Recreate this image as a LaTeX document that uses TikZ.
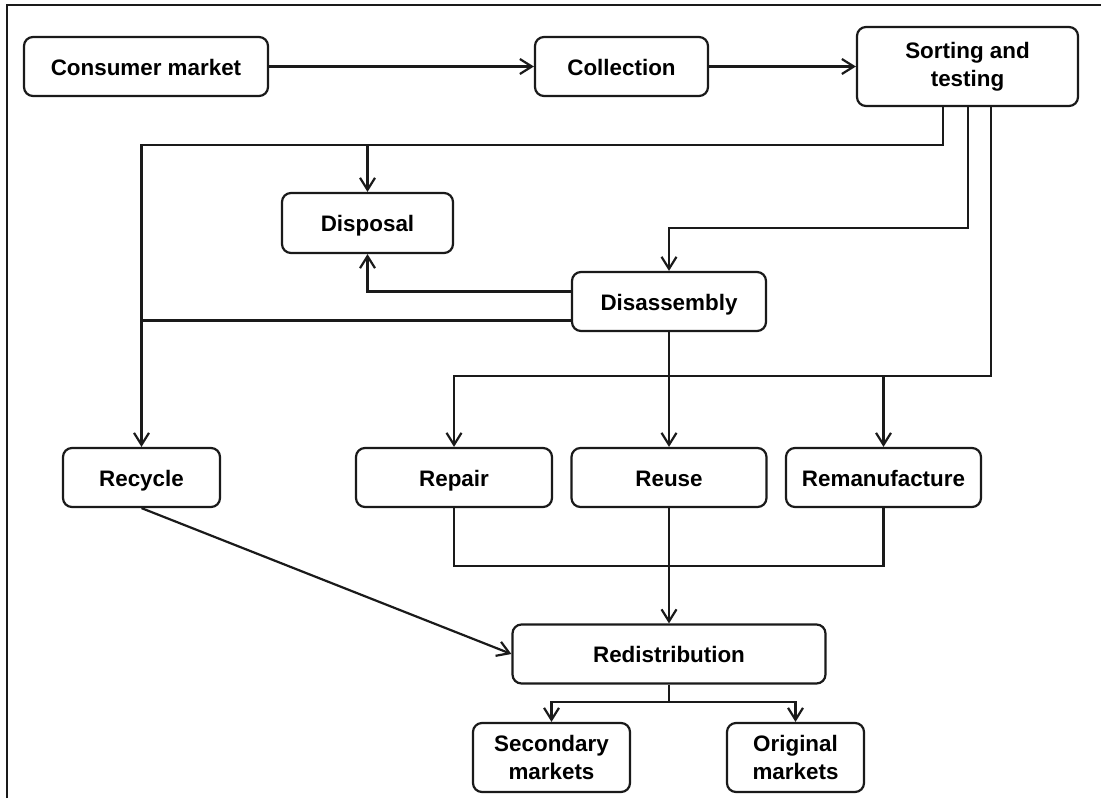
\documentclass[tikz,border=0pt]{standalone}
\usepackage{fontspec}
\setsansfont{Liberation Sans}
\usepackage{xcolor}
\usepackage{tikz}
\usetikzlibrary{arrows.meta,positioning}
\definecolor{ink}{HTML}{1A1A1A}
\tikzset{
  every node/.style={font=\sffamily},
  box/.style={draw=ink,line width=1.1pt,rounded corners=4.5pt,fill=white,align=center,
              font=\sffamily\bfseries\fontsize{11.2}{14}\selectfont,inner sep=2pt,
              minimum height=29.5pt},
  one/.style={box,text height=8.5pt,text depth=0pt},
  ar/.style={-{Straight Barb[length=6pt,width=7.5pt,line width=1.1pt]},draw=ink,line width=1.1pt},
  ln/.style={draw=ink,line width=1.1pt},
}

\begin{document}
\begin{tikzpicture}[x=0.5pt,y=-0.5pt]
\useasboundingbox (0,0) rectangle (1101,798);

% ---- frame ----
\draw[draw=ink,line width=1.3pt] (7,798) -- (7,5) -- (1101,5);

% ---- top row ----
\node[one,minimum width=122pt] (cm) at (146,66.5) {Consumer market};
\node[one,minimum width=86.5pt] (col) at (621.5,66.5) {Collection};
\node[box,minimum width=110.5pt,minimum height=39.5pt] (sort) at (967.5,66.5) {Sorting and\\testing};

\draw[ar] (cm) -- (col);
\draw[ar] (col) -- (sort);

% ---- disposal / disassembly ----
\node[one,minimum width=85.5pt,minimum height=30pt] (disp) at (367.5,223) {Disposal};
\node[one,minimum width=97pt] (dis) at (669,301.5) {Disassembly};

\coordinate (jtop) at (943,145);
\coordinate (jdis) at (968,228);
\coordinate (jmid) at (991,376);
\coordinate (dw1) at ([yshift=5pt]dis.west);
\coordinate (dw2) at ([yshift=-9.5pt]dis.west);

% ---- recovery options ----
\node[one,minimum width=78.5pt] (rec) at (141.5,477.5) {Recycle};
\node[one,minimum width=98pt] (rep) at (454,477.5) {Repair};
\node[one,minimum width=97.5pt] (reu) at (669,477.5) {Reuse};
\node[one,minimum width=97.5pt] (rem) at (883.5,477.5) {Remanufacture};

\draw[ar] (sort.south -| jtop) -- (jtop) -| (rec.north);
\draw[ar] (disp.north |- jtop) -- (disp.north);
\draw[ar] (sort.south -| jdis) -- (jdis) -| (dis.north);
\draw[ar] (dw1) -| (disp.south);
\draw[ln] (dw2) -- (dw2 -| rec.north);
\draw[ar] (sort.south -| jmid) -- (jmid) -| (rep.north);
\draw[ar] (rem.north |- jmid) -- (rem.north);
\draw[ar] (dis) -- (reu);

% ---- redistribution ----
\node[one,minimum width=156.5pt] (red) at (669,654) {Redistribution};
\node[box,minimum width=78.5pt,minimum height=34.5pt] (sec) at (551.5,757.5) {Secondary\\markets};
\node[box,minimum width=68.5pt,minimum height=34.5pt] (org) at (795.5,757.5) {Original\\markets};

\coordinate (jlow) at (669,566);
\coordinate (jbot) at (669,702);

\draw[ln] (rep.south) |- (jlow) -| (rem.south);
\draw[ar] (reu) -- (red);
\draw[ar] (rec.south) -- (red.west);
\draw[ln] (red.south) -- (jbot);
\draw[ar] (jbot) -| (sec.north);
\draw[ar] (jbot) -| (org.north);

\end{tikzpicture}
\end{document}
